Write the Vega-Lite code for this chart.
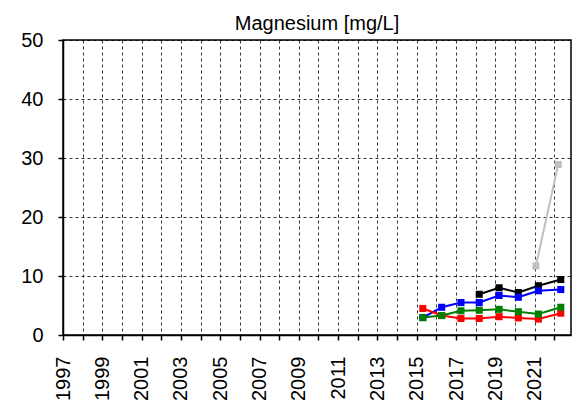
{
  "$schema": "https://vega.github.io/schema/vega-lite/v6.json",
  "width": 508,
  "height": 295,
  "autosize": {"type": "none"},
  "padding": {"left": 63, "top": 40, "right": 3, "bottom": 67},
  "background": "white",
  "title": {"text": "Magnesium [mg/L]", "font": "Liberation Sans", "fontSize": 20, "fontWeight": "normal", "color": "black", "anchor": "middle", "baseline": "bottom", "offset": 6, "dy": 30},
  "config": {
    "view": {"stroke": "black", "strokeWidth": 1.5},
    "axis": {"labelFont": "Liberation Sans", "labelFontSize": 20, "labelColor": "black", "domainColor": "black", "tickColor": "black", "gridColor": "black", "gridDash": [3, 3], "gridWidth": 1, "gridOpacity": 0.8, "title": null, "domainWidth": 1.5, "tickWidth": 1.5}
  },
  "data": {"values": [
    {"s": "grey", "year": 2021.06, "v": 11.7},
    {"s": "grey", "year": 2022.2, "v": 28.9},
    {"s": "black", "year": 2018.18, "v": 6.9},
    {"s": "black", "year": 2019.19, "v": 8.0},
    {"s": "black", "year": 2020.17, "v": 7.2},
    {"s": "black", "year": 2021.19, "v": 8.35},
    {"s": "black", "year": 2022.33, "v": 9.4},
    {"s": "blue", "year": 2015.31, "v": 2.95},
    {"s": "blue", "year": 2016.27, "v": 4.7},
    {"s": "blue", "year": 2017.25, "v": 5.5},
    {"s": "blue", "year": 2018.18, "v": 5.5},
    {"s": "blue", "year": 2019.19, "v": 6.7},
    {"s": "blue", "year": 2020.17, "v": 6.4},
    {"s": "blue", "year": 2021.19, "v": 7.5},
    {"s": "blue", "year": 2022.33, "v": 7.7},
    {"s": "red", "year": 2015.31, "v": 4.5},
    {"s": "red", "year": 2016.27, "v": 3.3},
    {"s": "red", "year": 2017.25, "v": 2.8},
    {"s": "red", "year": 2018.18, "v": 2.8},
    {"s": "red", "year": 2019.19, "v": 3.1},
    {"s": "red", "year": 2020.17, "v": 2.9},
    {"s": "red", "year": 2021.19, "v": 2.7},
    {"s": "red", "year": 2022.33, "v": 3.7},
    {"s": "green", "year": 2015.31, "v": 2.95},
    {"s": "green", "year": 2016.27, "v": 3.3},
    {"s": "green", "year": 2017.25, "v": 4.1},
    {"s": "green", "year": 2018.18, "v": 4.2},
    {"s": "green", "year": 2019.19, "v": 4.35},
    {"s": "green", "year": 2020.17, "v": 3.95},
    {"s": "green", "year": 2021.19, "v": 3.55},
    {"s": "green", "year": 2022.33, "v": 4.7}
  ]},
  "mark": {"type": "line", "strokeWidth": 2, "point": {"shape": "square", "filled": true, "size": 50, "opacity": 1}},
  "encoding": {
    "x": {"field": "year", "type": "quantitative",
      "scale": {"domain": [1997, 2022.85], "nice": false, "zero": false},
      "axis": {"values": [1997,1998,1999,2000,2001,2002,2003,2004,2005,2006,2007,2008,2009,2010,2011,2012,2013,2014,2015,2016,2017,2018,2019,2020,2021,2022],
        "labelExpr": "datum.value % 2 == 1 ? format(datum.value, 'd') : ''",
        "labelAngle": -90, "labelAlign": "right", "labelBaseline": "middle", "tickSize": 5, "labelPadding": 16, "labelOverlap": false, "labelFlush": false}},
    "y": {"field": "v", "type": "quantitative",
      "scale": {"domain": [0, 50], "nice": false},
      "axis": {"values": [0, 10, 20, 30, 40, 50], "tickSize": 5, "labelPadding": 15, "labelBaseline": "middle"}},
    "color": {"field": "s", "type": "nominal", "legend": null,
      "scale": {"domain": ["grey", "black", "blue", "red", "green"], "range": ["#c0c0c0", "#000000", "#0000ff", "#ff0000", "#008000"]}}
  }
}
